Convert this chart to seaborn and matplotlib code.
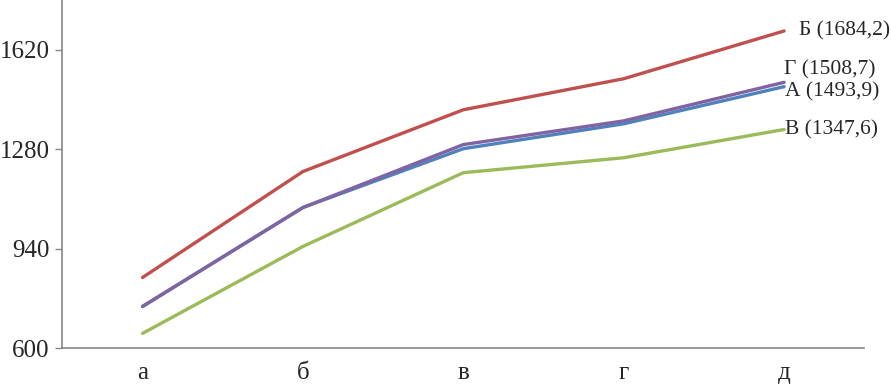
import numpy as np
import pandas as pd
import matplotlib
matplotlib.use("Agg")
import matplotlib.pyplot as plt
import seaborn as sns

categories = ["а", "б", "в", "г", "д"]
series_names = ["А", "Б", "В", "Г"]
values_a = [743, 1081, 1282, 1367, 1493.9]
values_b = [842, 1204, 1415, 1521, 1684.2]
values_v = [651, 948, 1200, 1251, 1347.6]
values_g = [743, 1081, 1296, 1377, 1508.7]
end_labels = ["А (1493,9)", "Б (1684,2)", "В (1347,6)", "Г (1508,7)"]
colors = ["#4F81BD", "#C0504D", "#9BBB59", "#8064A2"]
y_ticks = [600, 940, 1280, 1620]


def makeGraph():
    sns.set_style("white")
    plt.rcParams['font.family'] = ['Liberation Serif', 'DejaVu Serif']

    rows = []
    for name, vals in zip(series_names, [values_a, values_b, values_v, values_g]):
        for i, v in enumerate(vals):
            rows.append({'x': i, 'value': v, 'series': name})
    df = pd.DataFrame(rows)

    fig, ax = plt.subplots(figsize=(8.91, 3.87), dpi=100)
    fig.subplots_adjust(left=0.07, right=0.97, bottom=0.10, top=1.0)

    sns.lineplot(data=df, x='x', y='value', hue='series', hue_order=series_names,
                 palette=colors, linewidth=2.4, legend=False, ax=ax)

    # labels next to the last point of each line
    offsets = {"А": (1, -4), "Б": (11, 0), "В": (1, 0), "Г": (0, 9)}
    for name, vals, lab in zip(series_names, [values_a, values_b, values_v, values_g], end_labels):
        dx, dy = offsets[name]
        ax.annotate(lab, xy=(4, vals[-1]), xytext=(dx, dy), textcoords='offset points',
                    ha='left', va='center', fontsize=15.5)

    ax.set_xlim(-0.5, 4.5)
    ax.set_ylim(600, 1790)
    ax.set_xticks(range(len(categories)))
    ax.set_xticklabels(categories)
    ax.set_yticks(y_ticks)
    ax.tick_params(axis='x', length=0, pad=10, labelsize=18)
    ax.tick_params(axis='y', length=5, width=1, color='#868686', direction='out', left=True,
                   labelsize=18, pad=4)
    ax.set_xlabel("")
    ax.set_ylabel("")
    for s in ['top', 'right']:
        ax.spines[s].set_visible(False)
    for s in ['left', 'bottom']:
        ax.spines[s].set_color('#868686')
        ax.spines[s].set_linewidth(1.2)

    fig.savefig("out.png", dpi=100)


def main():
    makeGraph()


if __name__ == "__main__":
    main()
